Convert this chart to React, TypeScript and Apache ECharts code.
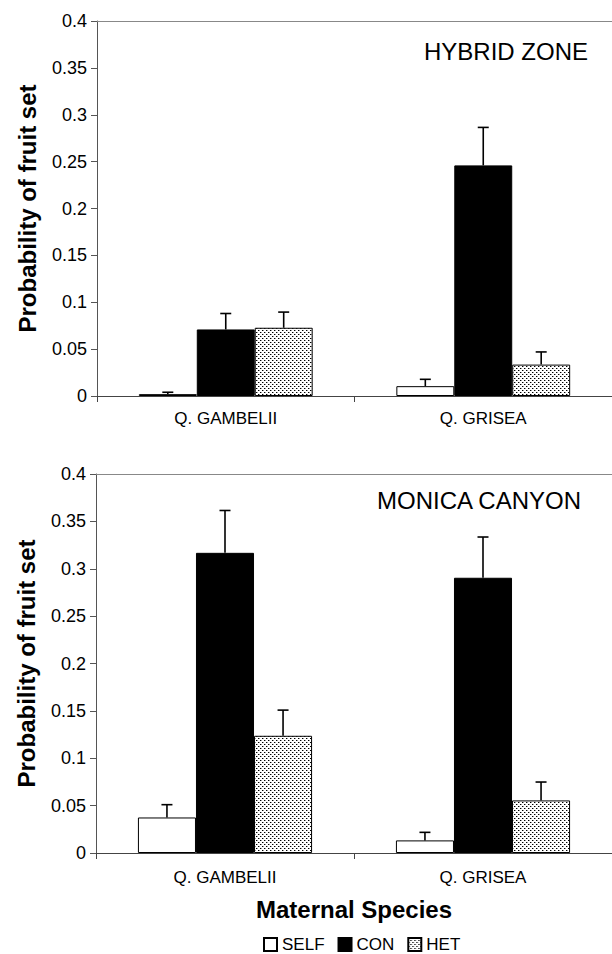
import React, { useEffect, useRef } from "react";
import * as echarts from "echarts";

const categories = ["Q. GAMBELII", "Q. GRISEA"];
const legendNames = ["SELF", "CON", "HET"];
const yTicks = { min: 0, max: 0.4, interval: 0.05 };

// HYBRID ZONE panel
const hybridSelf = [0.002, 0.0105];
const hybridSelfErr = [0.004, 0.0178];
const hybridCon = [0.071, 0.246];
const hybridConErr = [0.088, 0.2865];
const hybridHet = [0.0728, 0.0335];
const hybridHetErr = [0.0895, 0.047];

// MONICA CANYON panel
const monicaSelf = [0.0375, 0.0133];
const monicaSelfErr = [0.051, 0.0218];
const monicaCon = [0.3168, 0.2905];
const monicaConErr = [0.3615, 0.3335];
const monicaHet = [0.1237, 0.0555];
const monicaHetErr = [0.1508, 0.0749];

const FONT = "Liberation Sans, Arial, sans-serif";
const BAR_FRAC = 0.225;

function makePattern() {
  const c = document.createElement("canvas");
  c.width = 4;
  c.height = 4;
  const ctx = c.getContext("2d")!;
  ctx.fillStyle = "#ffffff";
  ctx.fillRect(0, 0, 4, 4);
  ctx.fillStyle = "#000000";
  ctx.fillRect(0, 0, 1, 1);
  ctx.fillRect(2, 2, 1, 1);
  ctx.fillStyle = "#9a9a9a";
  ctx.fillRect(1, 0, 1, 1);
  ctx.fillRect(3, 2, 1, 1);
  return c;
}

function errData(vals: number[][], errs: number[][]) {
  const out: number[][] = [];
  vals.forEach((arr, bi) => {
    arr.forEach((v, ci) => {
      out.push([ci, bi, v, errs[bi][ci]]);
    });
  });
  return out;
}

export default function App() {
  const ref = useRef<HTMLDivElement>(null);
  useEffect(() => {
    if (!ref.current) return;
    const chart = echarts.init(ref.current, null, { renderer: "svg" });
    const pattern = makePattern();
    const colors = ["#ffffff", "#000000", { image: pattern, repeat: "repeat" }];

    const renderErr = (params: any, api: any) => {
      const ci = api.value(0);
      const bi = api.value(1);
      const v = api.value(2);
      const e = api.value(3);
      const base = api.coord([ci, v]);
      const top = api.coord([ci, e]);
      const band = api.size([1, 0])[0];
      const x = base[0] + (bi - 1) * band * BAR_FRAC;
      const st = { stroke: "#000", lineWidth: 1.6 };
      return {
        type: "group",
        children: [
          { type: "line", shape: { x1: x, y1: base[1], x2: x, y2: top[1] }, style: st },
          { type: "line", shape: { x1: x - 5.5, y1: top[1], x2: x + 5.5, y2: top[1] }, style: st },
        ],
      };
    };

    const panels = [
      { vals: [hybridSelf, hybridCon, hybridHet], errs: [hybridSelfErr, hybridConErr, hybridHetErr] },
      { vals: [monicaSelf, monicaCon, monicaHet], errs: [monicaSelfErr, monicaConErr, monicaHetErr] },
    ];

    const series: any[] = [];
    panels.forEach((p, gi) => {
      p.vals.forEach((arr, bi) => {
        series.push({
          type: "bar",
          name: legendNames[bi],
          xAxisIndex: gi * 2,
          yAxisIndex: gi,
          data: arr,
          barWidth: BAR_FRAC * 100 + "%",
          barGap: "0%",
          itemStyle: { color: colors[bi], borderColor: "#000", borderWidth: 1 },
          emphasis: { disabled: true },
        });
      });
      series.push({
        type: "custom",
        name: "err" + gi,
        xAxisIndex: gi * 2,
        yAxisIndex: gi,
        data: errData(p.vals, p.errs),
        encode: { x: 0, y: [2, 3] },
        renderItem: renderErr,
        z: 5,
      });
    });

    const mkX = (gi: number, margin: number, extra: any = {}) => [
      {
        gridIndex: gi,
        type: "category",
        data: categories,
        axisLine: { lineStyle: { color: "#444", width: 1 } },
        axisTick: { show: true, length: 6, lineStyle: { color: "#444" } },
        axisLabel: { fontSize: 17, margin, color: "#000", fontFamily: FONT },
        ...extra,
      },
      {
        gridIndex: gi,
        type: "category",
        position: "top",
        data: categories,
        axisLine: { lineStyle: { color: "#888", width: 1 } },
        axisTick: { show: false },
        axisLabel: { show: false },
      },
    ];

    const mkY = (gi: number) => ({
      gridIndex: gi,
      type: "value",
      min: yTicks.min,
      max: yTicks.max,
      interval: yTicks.interval,
      axisLine: { show: true, lineStyle: { color: "#555", width: 1 } },
      axisTick: { show: true, length: 6, lineStyle: { color: "#555" } },
      splitLine: { show: false },
      axisLabel: { fontSize: 18, margin: 10, color: "#000", fontFamily: FONT },
      name: "Probability of fruit set",
      nameLocation: "middle",
      nameGap: 58,
      nameTextStyle: { fontSize: 24, fontWeight: "bold", color: "#000", fontFamily: FONT },
    });

    chart.setOption({
      animation: false,
      textStyle: { fontFamily: FONT },
      grid: [
        { left: 97, right: -9, top: 21, height: 375 },
        { left: 96, right: -6, top: 474, height: 379 },
      ],
      xAxis: [
        ...mkX(0, 14),
        ...mkX(1, 16, {
          name: "Maternal Species",
          nameLocation: "middle",
          nameGap: 44,
          nameTextStyle: { fontSize: 24, fontWeight: "bold", color: "#000", fontFamily: FONT },
        }),
      ],
      yAxis: [mkY(0), mkY(1)],
      legend: {
        data: legendNames,
        left: 263,
        top: 936,
        padding: 0,
        itemWidth: 13,
        itemHeight: 13,
        itemGap: 13,
        icon: "rect",
        textStyle: { fontSize: 17, color: "#000", fontFamily: FONT },
        selectedMode: false,
      },
      graphic: [
        {
          type: "text",
          left: 424,
          top: 39,
          style: { text: "HYBRID ZONE", fontSize: 24, fill: "#000", fontFamily: FONT },
        },
        {
          type: "text",
          left: 377,
          top: 488,
          style: { text: "MONICA CANYON", fontSize: 24, fill: "#000", fontFamily: FONT },
        },
      ],
      series,
    });
    return () => chart.dispose();
  }, []);
  return (
    <div
      ref={ref}
      style={{ position: "absolute", left: 0, top: 0, width: 612, height: 954, background: "#fff" }}
    />
  );
}
